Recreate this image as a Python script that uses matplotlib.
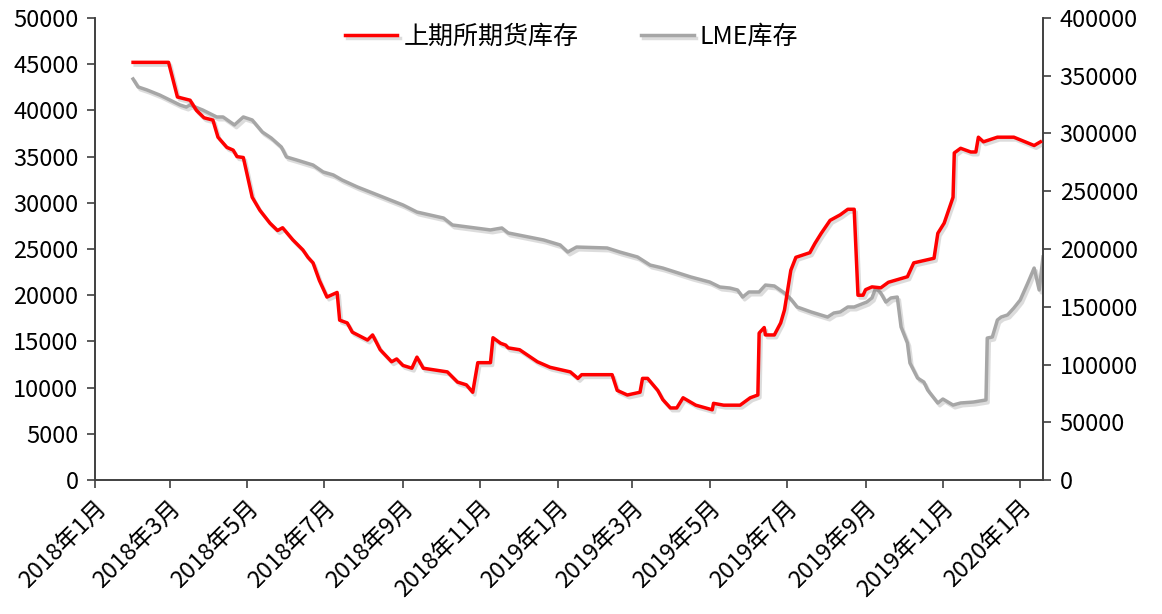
import matplotlib
matplotlib.use('Agg')
import matplotlib.pyplot as plt
import matplotlib.dates as mdates
import matplotlib.patheffects as pe
import matplotlib.ticker as mticker
import pandas as pd

# ── Data ─────────────────────────────────────────────────────────────────────

SHFE_DATES = [
    '2018-01-31', '2018-02-28', '2018-03-07', '2018-03-17', '2018-03-22', '2018-03-28',
    '2018-04-04', '2018-04-08', '2018-04-15', '2018-04-20', '2018-04-23', '2018-04-28',
    '2018-05-05', '2018-05-11', '2018-05-19', '2018-05-25', '2018-05-29', '2018-06-06',
    '2018-06-14', '2018-06-18', '2018-06-22', '2018-06-27', '2018-07-03', '2018-07-11',
    '2018-07-13', '2018-07-19', '2018-07-23', '2018-08-04', '2018-08-08', '2018-08-14',
    '2018-08-23', '2018-08-27', '2018-09-01', '2018-09-08', '2018-09-12', '2018-09-17',
    '2018-10-06', '2018-10-14', '2018-10-21', '2018-10-26', '2018-10-30', '2018-11-09',
    '2018-11-11', '2018-11-17', '2018-11-21', '2018-11-23', '2018-12-02', '2018-12-16',
    '2018-12-26', '2019-01-11', '2019-01-17', '2019-01-20', '2019-02-13', '2019-02-17',
    '2019-02-25', '2019-03-07', '2019-03-09', '2019-03-13', '2019-03-21', '2019-03-25',
    '2019-03-31', '2019-04-05', '2019-04-10', '2019-04-20', '2019-05-03', '2019-05-04',
    '2019-05-12', '2019-05-25', '2019-06-02', '2019-06-08', '2019-06-09', '2019-06-13',
    '2019-06-14', '2019-06-21', '2019-06-26', '2019-06-29', '2019-07-04', '2019-07-08',
    '2019-07-19', '2019-07-23', '2019-07-28', '2019-08-04', '2019-08-12', '2019-08-18',
    '2019-08-23', '2019-08-26', '2019-08-30', '2019-09-01', '2019-09-06', '2019-09-13',
    '2019-09-19', '2019-10-04', '2019-10-09', '2019-10-25', '2019-10-28', '2019-11-02',
    '2019-11-09', '2019-11-10', '2019-11-15', '2019-11-23', '2019-11-27', '2019-11-29',
    '2019-12-03', '2019-12-14', '2019-12-27', '2020-01-12', '2020-01-17',
]
SHFE_STOCK = [
    45200, 45200, 41450, 41100, 40000, 39200,
    38950, 37100, 36000, 35700, 35000, 34900,
    30600, 29200, 27800, 27000, 27300, 26000,
    24900, 24100, 23500, 21600, 19800, 20300,
    17300, 17000, 16000, 15150, 15700, 14100,
    12800, 13100, 12400, 12100, 13300, 12100,
    11700, 10600, 10300, 9500, 12700, 12700,
    15400, 14800, 14600, 14300, 14100, 12800,
    12200, 11700, 11000, 11400, 11400, 9700,
    9200, 9500, 11000, 11000, 9700, 8700,
    7800, 7800, 8900, 8100, 7600, 8300,
    8100, 8100, 8900, 9200, 15900, 16500,
    15700, 15700, 17000, 18400, 22700, 24100,
    24600, 25600, 26700, 28100, 28700, 29300,
    29300, 20000, 20000, 20600, 20900, 20800,
    21400, 22000, 23500, 24000, 26700, 27800,
    30600, 35400, 35900, 35500, 35500, 37100,
    36600, 37100, 37100, 36200, 36600,
]

LME_DATES = [
    '2018-01-31', '2018-02-04', '2018-02-11', '2018-02-21', '2018-03-01', '2018-03-09',
    '2018-03-14', '2018-03-17', '2018-03-27', '2018-04-07', '2018-04-12', '2018-04-21',
    '2018-04-28', '2018-05-05', '2018-05-13', '2018-05-20', '2018-05-28', '2018-06-01',
    '2018-06-09', '2018-06-22', '2018-06-30', '2018-07-08', '2018-07-15', '2018-07-27',
    '2018-08-08', '2018-08-22', '2018-09-01', '2018-09-12', '2018-10-03', '2018-10-10',
    '2018-11-09', '2018-11-18', '2018-11-23', '2018-12-21', '2019-01-03', '2019-01-09',
    '2019-01-16', '2019-02-09', '2019-02-19', '2019-03-05', '2019-03-15', '2019-03-25',
    '2019-04-16', '2019-05-01', '2019-05-09', '2019-05-17', '2019-05-23', '2019-05-27',
    '2019-06-01', '2019-06-09', '2019-06-14', '2019-06-21', '2019-06-29', '2019-07-04',
    '2019-07-09', '2019-07-20', '2019-08-02', '2019-08-07', '2019-08-12', '2019-08-18',
    '2019-08-23', '2019-09-02', '2019-09-06', '2019-09-09', '2019-09-13', '2019-09-17',
    '2019-09-21', '2019-09-26', '2019-09-29', '2019-10-04', '2019-10-06', '2019-10-12',
    '2019-10-17', '2019-10-20', '2019-10-28', '2019-11-01', '2019-11-09', '2019-11-15',
    '2019-11-25', '2019-12-05', '2019-12-06', '2019-12-10', '2019-12-14', '2019-12-17',
    '2019-12-22', '2019-12-27', '2020-01-01', '2020-01-07', '2020-01-12', '2020-01-16',
    '2020-01-19',
]
LME_STOCK = [
    347200, 340300, 337700, 333300, 329000, 324700,
    322900, 324700, 320300, 314300, 314300, 307400,
    314300, 311700, 301300, 296100, 288300, 279700,
    277100, 272700, 266700, 264100, 259700, 253700,
    248500, 242400, 238100, 232000, 226800, 220800,
    216500, 218200, 213900, 207800, 203500, 197400,
    201700, 200900, 197400, 193100, 186100, 183500,
    175800, 171400, 167100, 166200, 164500, 158400,
    162800, 162800, 168800, 168000, 161900, 156700,
    149800, 145500, 141100, 144600, 145500, 149800,
    149800, 154100, 157600, 166200, 161900, 154100,
    157600, 158400, 132500, 118600, 101300, 88300,
    84800, 77900, 66700, 70100, 64900, 66700,
    67500, 69300, 122900, 123800, 138500, 141100,
    142900, 148900, 155800, 170600, 183500, 164500,
    193100,
]

SHFE_LABEL = '上期所期货库存'
LME_LABEL = 'LME库存'
X_START, X_END = '2018-01-01', '2020-01-19'

# ── Style ─────────────────────────────────────────────────────────────────────

plt.rcParams['font.family'] = ['Noto Sans CJK SC', 'DejaVu Sans']
FS = 17
LEGEND_FS = 18
AXIS_COLOR = '#404040'


def shadow():
    return [pe.SimpleLineShadow(offset=(1.5, -2), shadow_color='#777777', alpha=0.25),
            pe.Normal()]


def month_fmt(x, pos=None):
    d = mdates.num2date(x)
    return f'{d.year}年{d.month}月'


fig = plt.figure(figsize=(11.62, 6.14), dpi=100)
ax = fig.add_axes([0.0818, 0.2182, 0.8158, 0.7525])
ax2 = ax.twinx()

shfe_x = pd.to_datetime(SHFE_DATES)
lme_x = pd.to_datetime(LME_DATES)

l1, = ax.plot(shfe_x, SHFE_STOCK, color='#ff0000', linewidth=2.5,
              label=SHFE_LABEL, path_effects=shadow(), zorder=3)
l2, = ax2.plot(lme_x, LME_STOCK, color='#a6a6a6', linewidth=2.5,
               label=LME_LABEL, path_effects=shadow(), zorder=2)

ax.set_zorder(ax2.get_zorder() + 1)
ax.patch.set_visible(False)

ax.set_xlim(pd.Timestamp(X_START), pd.Timestamp(X_END))
ax.set_ylim(0, 50000)
ax2.set_ylim(0, 400000)
ax.yaxis.set_major_locator(mticker.MultipleLocator(5000))
ax2.yaxis.set_major_locator(mticker.MultipleLocator(50000))

ax.xaxis.set_major_locator(mdates.MonthLocator(bymonth=[1, 3, 5, 7, 9, 11]))
ax.xaxis.set_major_formatter(mticker.FuncFormatter(month_fmt))
for lbl in ax.get_xticklabels():
    lbl.set_rotation(45)
    lbl.set_ha('right')
    lbl.set_rotation_mode('anchor')

for a in (ax, ax2):
    a.spines['top'].set_visible(False)
    for s in ('left', 'right', 'bottom'):
        a.spines[s].set_color(AXIS_COLOR)
        a.spines[s].set_linewidth(1.2)
    a.tick_params(axis='both', labelsize=FS, colors='black', direction='out',
                  length=6, width=1.2)
    a.tick_params(axis='both', color=AXIS_COLOR)
ax.tick_params(axis='x', pad=6)
ax.tick_params(axis='y', pad=6)
ax2.tick_params(axis='y', pad=6)

fig.legend([l1, l2], [SHFE_LABEL, LME_LABEL], loc='center',
           bbox_to_anchor=(0.492, 0.94), ncol=2, frameon=False, fontsize=LEGEND_FS,
           handlelength=2.1, handletextpad=0.25, columnspacing=2.5)

fig.savefig('out.png', dpi=100, facecolor='white')
